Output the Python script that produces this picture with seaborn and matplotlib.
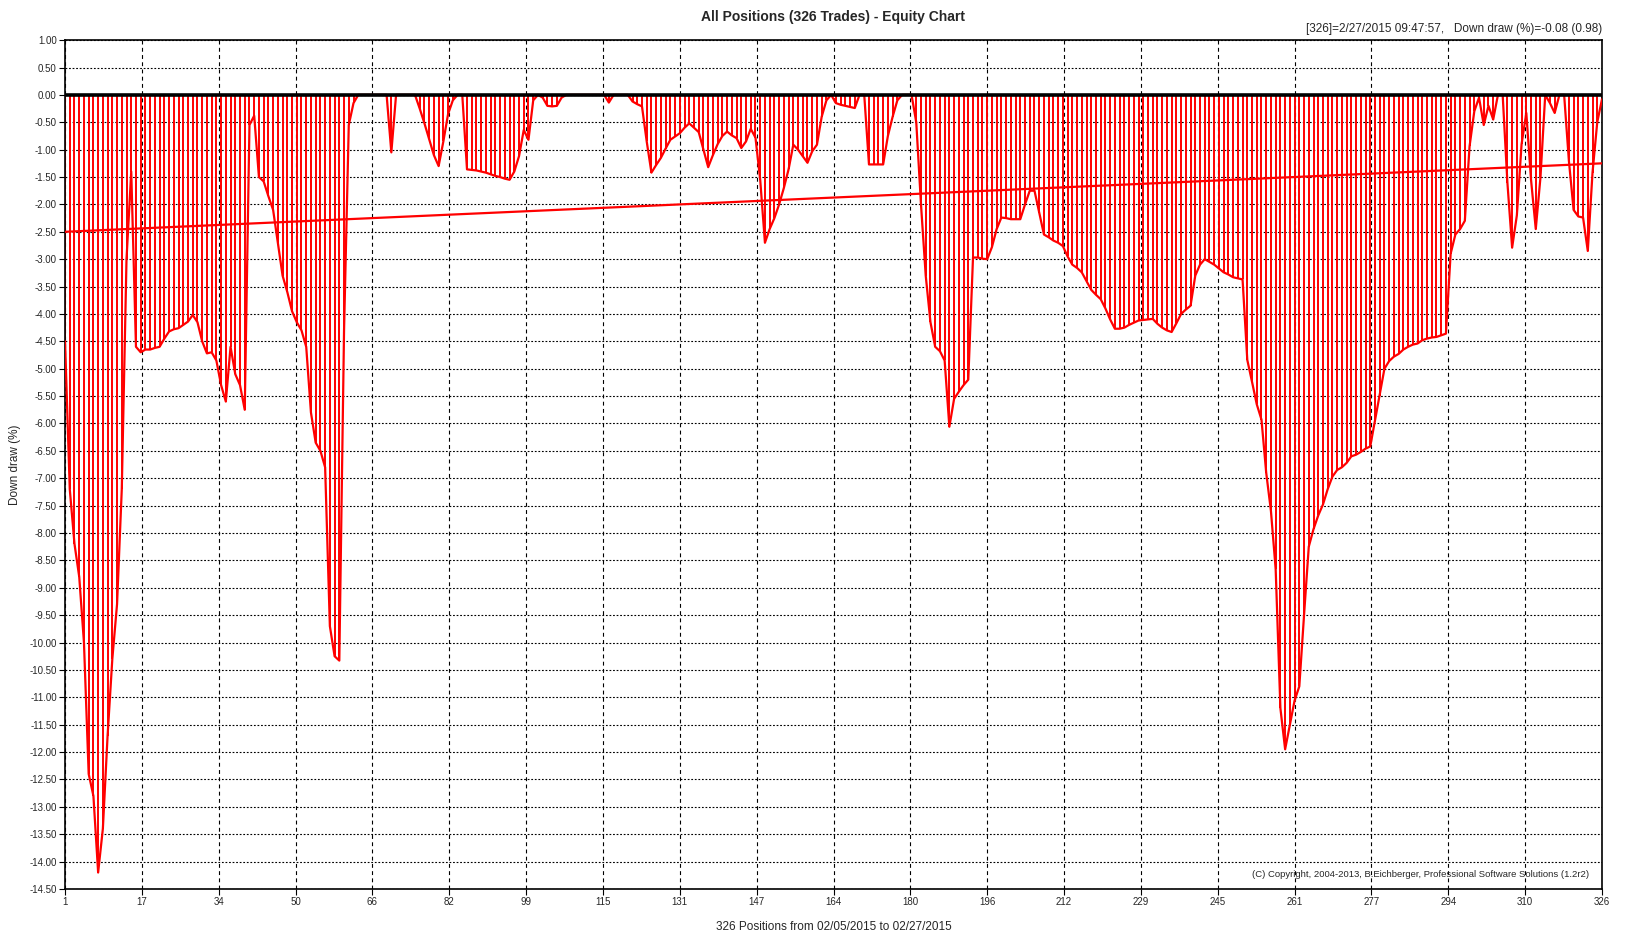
import numpy as np
import matplotlib
matplotlib.use("Agg")
import matplotlib.pyplot as plt
import matplotlib.ticker as mticker
import seaborn as sns

sns.set_theme(style="white")
plt.rcParams["font.family"] = ["Liberation Sans", "DejaVu Sans"]

# Draw-down (%) per closed position
drawdown = [
    -4.50, -7.20, -8.20, -8.80, -10.00, -12.40, -12.80, -14.20, -13.40, -11.70,
    -10.30, -9.30, -7.20, -3.00, -1.40, -4.60, -4.70, -4.65, -4.65, -4.62,
    -4.60, -4.45, -4.32, -4.28, -4.26, -4.20, -4.14, -4.02, -4.15, -4.50,
    -4.72, -4.70, -4.85, -5.30, -5.60, -4.60, -5.10, -5.30, -5.75, -0.55,
    -0.38, -1.50, -1.58, -1.85, -2.10, -2.70, -3.30, -3.60, -3.95, -4.15,
    -4.30, -4.60, -5.80, -6.35, -6.50, -6.80, -9.70, -10.25, -10.33, -4.30,
    -0.55, -0.15, 0.00, 0.00, 0.00, 0.00, 0.00, 0.00, 0.00, -1.05,
    0.00, 0.00, 0.00, 0.00, 0.00, -0.25, -0.52, -0.81, -1.10, -1.30,
    -0.85, -0.35, -0.10, 0.00, 0.00, -1.36, -1.37, -1.38, -1.40, -1.42,
    -1.45, -1.48, -1.50, -1.53, -1.55, -1.40, -1.12, -0.64, -0.82, -0.10,
    0.00, -0.05, -0.20, -0.21, -0.20, -0.05, 0.00, 0.00, 0.00, 0.00,
    0.00, 0.00, 0.00, 0.00, 0.00, -0.14, 0.00, 0.00, 0.00, 0.00,
    -0.12, -0.17, -0.21, -0.85, -1.42, -1.28, -1.15, -0.98, -0.82, -0.76,
    -0.70, -0.60, -0.52, -0.60, -0.68, -1.00, -1.32, -1.10, -0.90, -0.75,
    -0.67, -0.74, -0.79, -0.97, -0.85, -0.62, -0.78, -1.55, -2.70, -2.45,
    -2.25, -2.00, -1.70, -1.36, -0.91, -1.00, -1.12, -1.24, -1.03, -0.91,
    -0.40, -0.10, 0.00, -0.15, -0.18, -0.20, -0.22, -0.24, 0.00, 0.00,
    -1.27, -1.27, -1.27, -1.27, -0.75, -0.40, -0.10, 0.00, 0.00, 0.00,
    -0.50, -2.00, -3.30, -4.15, -4.60, -4.68, -4.85, -6.06, -5.55, -5.42,
    -5.30, -5.20, -2.97, -2.97, -2.99, -3.00, -2.78, -2.45, -2.24, -2.25,
    -2.27, -2.27, -2.27, -2.00, -1.75, -1.75, -2.15, -2.55, -2.60, -2.66,
    -2.70, -2.76, -2.95, -3.10, -3.16, -3.24, -3.40, -3.56, -3.65, -3.73,
    -3.90, -4.10, -4.27, -4.27, -4.25, -4.20, -4.16, -4.12, -4.11, -4.10,
    -4.09, -4.18, -4.25, -4.30, -4.33, -4.17, -4.00, -3.92, -3.85, -3.30,
    -3.10, -3.00, -3.05, -3.10, -3.17, -3.24, -3.28, -3.33, -3.35, -3.37,
    -4.84, -5.24, -5.65, -5.93, -6.90, -7.60, -8.66, -11.20, -11.95, -11.50,
    -11.06, -10.80, -9.50, -8.25, -7.93, -7.68, -7.48, -7.20, -6.97, -6.85,
    -6.80, -6.72, -6.60, -6.57, -6.52, -6.46, -6.42, -5.95, -5.49, -5.00,
    -4.86, -4.78, -4.73, -4.65, -4.60, -4.56, -4.54, -4.48, -4.45, -4.43,
    -4.42, -4.39, -4.36, -2.90, -2.55, -2.45, -2.30, -0.94, -0.30, -0.05,
    -0.55, -0.20, -0.45, 0.00, 0.00, -1.60, -2.79, -2.20, -0.90, -0.33,
    -1.55, -2.45, -1.50, 0.00, -0.15, -0.33, 0.00, 0.00, -1.20, -2.10,
    -2.22, -2.24, -2.85, -1.42, -0.50, -0.08,
]
positions = np.arange(1, len(drawdown) + 1)

# trend line end points
trend_x = [1, 326]
trend_y = [-2.50, -1.25]

xtick_labels = ["1", "17", "34", "50", "66", "82", "99", "115", "131", "147", "164",
                "180", "196", "212", "229", "245", "261", "277", "294", "310", "326"]

fig = plt.figure(figsize=(16.34, 9.33), dpi=100)
ax = fig.add_axes([0.0398, 0.0472, 0.9406, 0.9098])

ax.vlines(positions, drawdown, 0, color="#ff0000", lw=1.4, zorder=2)
sns.lineplot(x=positions, y=drawdown, ax=ax, color="#ff0000", lw=1.6, zorder=3)
ax.plot(trend_x, trend_y, color="#ff0000", lw=1.6, zorder=3)
ax.axhline(0, color="black", lw=2.6, zorder=4)

ax.set_xlim(1, 326)
ax.set_ylim(-14.5, 1.0)
ax.set_xticks(np.linspace(1, 326, len(xtick_labels)))
ax.set_xticklabels(xtick_labels)
ax.set_yticks(np.arange(-14.5, 1.01, 0.5))
ax.yaxis.set_major_formatter(mticker.FormatStrFormatter("%.2f"))
ax.tick_params(axis="both", labelsize=7, length=4, width=0.8, direction="out",
               color="black", left=True, bottom=True, pad=2)

ax.xaxis.grid(True, color="black", lw=0.8, linestyle=(0, (3.5, 3)))
ax.yaxis.grid(True, color="black", lw=0.8, linestyle=(0, (1.6, 1.6)))
ax.set_axisbelow(True)
for s in ax.spines.values():
    s.set_color("black")
    s.set_linewidth(1.2)

ax.set_xlabel("326 Positions from 02/05/2015 to 02/27/2015", fontsize=8.5, labelpad=10)
ax.set_ylabel("Down draw (%)", fontsize=8.5, labelpad=6)

fig.text(0.51, 0.982, "All Positions (326 Trades) - Equity Chart", ha="center", va="center",
         fontsize=10, fontweight="bold")
ax.text(1.0, 1.006, "[326]=2/27/2015 09:47:57,   Down draw (%)=-0.08 (0.98)",
        transform=ax.transAxes, ha="right", va="bottom", fontsize=8.5)
ax.text(0.9915, 0.012, "(C) Copyright, 2004-2013, B.Eichberger, Professional Software Solutions (1.2r2)",
        transform=ax.transAxes, ha="right", va="bottom", fontsize=6.8)

fig.savefig("out.png", dpi=100)
